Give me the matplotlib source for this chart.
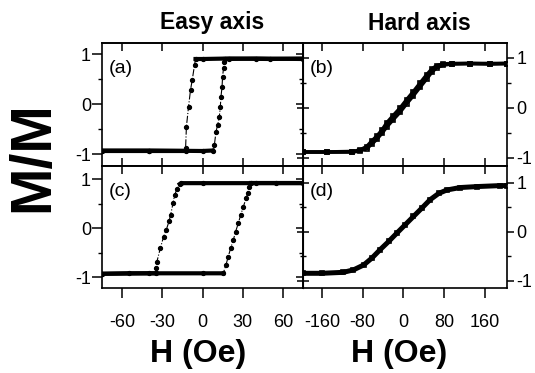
import matplotlib
matplotlib.use('Agg')
import matplotlib.pyplot as plt
from matplotlib.ticker import MultipleLocator, FixedLocator

plt.rcParams['font.family'] = ['Liberation Sans', 'DejaVu Sans']

# ---- data ----
# (a) easy axis, field sweep +75 -> -75 (down) and -75 -> +75 (up)
a_down_H = [75, 50, 20, 0, -5.2, -5.9, -7.6, -8.9, -10.4, -12.0, -12.6, -12.6, -40, -75]
a_down_M = [0.91, 0.90, 0.91, 0.90, 0.90, 0.79, 0.49, 0.29, -0.05, -0.45, -0.87, -0.93, -0.93, -0.93]
a_up_H = [-75, -40, 0, 7.6, 8.9, 10.1, 11.4, 12.6, 13.3, 13.8, 14.6, 15.0, 15.7, 16.3, 16.8, 40, 75]
a_up_M = [-0.93, -0.93, -0.94, -0.93, -0.81, -0.55, -0.41, -0.25, -0.05, 0.15, 0.35, 0.55, 0.72, 0.85, 0.90, 0.91, 0.90]

# (c) easy axis, second sample
c_down_H = [75, 40, 0, -15.8, -17, -19, -20.8, -22, -23.8, -25, -27, -29, -31.5, -34, -34.5, -34.5, -55, -75]
c_down_M = [0.92, 0.92, 0.92, 0.92, 0.90, 0.80, 0.68, 0.51, 0.27, 0.14, -0.03, -0.17, -0.41, -0.68, -0.82, -0.92, -0.92, -0.93]
c_up_H = [-75, -40, 0, 15.5, 17.5, 19.2, 21, 23, 24.7, 26.7, 28.5, 30.5, 32.5, 33.7, 35, 36, 55, 75]
c_up_M = [-0.93, -0.92, -0.92, -0.92, -0.75, -0.58, -0.41, -0.24, -0.07, 0.10, 0.27, 0.44, 0.61, 0.71, 0.85, 0.92, 0.92, 0.92]

# (b) hard axis
b_H = [-197, -150, -100, -85, -72, -62, -52, -42, -33, -20, -6.5, 6.5, 19.6, 32.7, 46, 55.7, 65.5, 78.4, 95, 130, 170, 203]
b_up_M = [-0.89, -0.89, -0.89, -0.87, -0.82, -0.73, -0.63, -0.51, -0.39, -0.24, -0.09, 0.08, 0.24, 0.41, 0.58, 0.71, 0.80, 0.85, 0.87, 0.88, 0.87, 0.88]
b_down_M = [-0.89, -0.89, -0.88, -0.85, -0.78, -0.67, -0.57, -0.45, -0.31, -0.16, -0.01, 0.16, 0.32, 0.49, 0.66, 0.77, 0.84, 0.87, 0.88, 0.88, 0.88, 0.88]

# (d) hard axis, second sample
d_H = [-197, -160, -118, -98, -78, -62, -46, -29, -13, 3.3, 19.6, 36, 52, 69, 85, 111, 144, 190, 203]
d_M = [-0.85, -0.85, -0.83, -0.78, -0.68, -0.54, -0.37, -0.20, -0.03, 0.14, 0.31, 0.48, 0.65, 0.78, 0.85, 0.90, 0.92, 0.94, 0.94]

easy_ticks = [-60, -30, 0, 30, 60]
hard_ticks = [-160, -80, 0, 80, 160]
y_ticks = [-1, 0, 1]

W, H = 535, 373
fig = plt.figure(figsize=(W / 100, H / 100), dpi=100)


def box(x0, y0, x1, y1):
    return [x0 / W, 1 - y1 / H, (x1 - x0) / W, (y1 - y0) / H]


ax_a = fig.add_axes(box(102, 43, 303, 166))
ax_b = fig.add_axes(box(303, 43, 507, 166))
ax_c = fig.add_axes(box(102, 166, 303, 288))
ax_d = fig.add_axes(box(303, 166, 507, 288))

FS = 13


def style(ax, xticks, xlim, ylim, bottom_row, right_col):
    ax.set_xlim(xlim)
    ax.set_ylim(ylim)
    for s in ax.spines.values():
        s.set_linewidth(1.2)
    ax.xaxis.set_major_locator(FixedLocator(xticks))
    ax.yaxis.set_major_locator(FixedLocator(y_ticks))
    ax.yaxis.set_minor_locator(MultipleLocator(0.5))
    ax.tick_params(labelsize=FS, width=1.1)
    # bottom ticks
    if bottom_row:
        ax.tick_params(axis='x', direction='out', length=7, pad=12, top=False)
        ax.set_xticklabels([str(t) for t in xticks])
    else:
        ax.tick_params(axis='x', direction='in', length=6, top=False, labelbottom=False)
    top = ax.secondary_xaxis('top')
    top.xaxis.set_major_locator(FixedLocator(xticks))
    top.tick_params(direction='in', length=6, width=1.1, labeltop=False)
    for s in top.spines.values():
        s.set_linewidth(1.2)
    # y ticks
    if right_col:
        ax.yaxis.tick_right()
        ax.tick_params(axis='y', which='major', direction='out', length=5, pad=2)
        ax.tick_params(axis='y', which='minor', direction='out', length=3, width=1.0)
        other = ax.secondary_yaxis('left')
        other.tick_params(which='major', direction='inout', length=9, width=1.1, labelleft=False)
        other.tick_params(which='minor', direction='inout', length=4, width=1.0)
    else:
        ax.tick_params(axis='y', which='major', direction='out', length=7, pad=1, right=False)
        ax.tick_params(axis='y', which='minor', direction='out', length=3, width=1.0, right=False)
        other = ax.secondary_yaxis('right')
        other.tick_params(which='major', direction='in', length=5, width=1.1, labelright=False)
        other.tick_params(which='minor', direction='in', length=3, width=1.0)
    other.yaxis.set_major_locator(FixedLocator(y_ticks))
    other.yaxis.set_minor_locator(MultipleLocator(0.5))
    ax.set_yticklabels([str(t) for t in y_ticks])


def easy(ax, dH, dM, uH, uM):
    for h, m in ((dH, dM), (uH, uM)):
        ax.plot(h, m, color='black', lw=0.8, ls='-.', marker='o', ms=2.8)
    # the flat saturated parts are drawn with dense points, so thicker
    ax.plot(dH[:5], dM[:5], color='black', lw=3)
    ax.plot(dH[-3:], dM[-3:], color='black', lw=3)
    ax.plot(uH[:4], uM[:4], color='black', lw=3)
    ax.plot(uH[-3:], uM[-3:], color='black', lw=3)


def hard(ax, h, curves, lw):
    for m in curves:
        ax.plot(h, m, color='black', lw=lw, solid_capstyle='butt')
        ax.plot(h, m, ls='none', marker='s', ms=3, mfc='none', mec='black', mew=1.2)


easy(ax_a, a_down_H, a_down_M, a_up_H, a_up_M)
easy(ax_c, c_down_H, c_down_M, c_up_H, c_up_M)
hard(ax_b, b_H, [b_up_M, b_down_M], 2.6)
hard(ax_d, d_H, [d_M], 3.6)

style(ax_a, easy_ticks, (-75, 75), (-1.24, 1.22), False, False)
style(ax_c, easy_ticks, (-75, 75), (-1.22, 1.27), True, False)
style(ax_b, hard_ticks, (-197, 203), (-1.17, 1.29), False, True)
style(ax_d, hard_ticks, (-197, 203), (-1.15, 1.34), True, True)

for ax, lab in ((ax_a, '(a)'), (ax_b, '(b)'), (ax_c, '(c)'), (ax_d, '(d)')):
    ax.text(0.035, 0.86, lab, transform=ax.transAxes, fontsize=14, va='top', ha='left')

fig.text(212 / W, 1 - 22 / H, 'Easy axis', fontsize=16.5, fontweight='bold', ha='center', va='center')
fig.text(419 / W, 1 - 23 / H, 'Hard axis', fontsize=16.5, fontweight='bold', ha='center', va='center')
fig.text(198 / W, 1 - 354 / H, 'H (Oe)', fontsize=23, fontweight='bold', ha='center', va='center')
fig.text(399 / W, 1 - 354 / H, 'H (Oe)', fontsize=23, fontweight='bold', ha='center', va='center')
fig.text(33 / W, 1 - 157 / H, 'M/M', fontsize=41, fontweight='bold', rotation=90, ha='center', va='center')

fig.savefig('out.png', dpi=100)
